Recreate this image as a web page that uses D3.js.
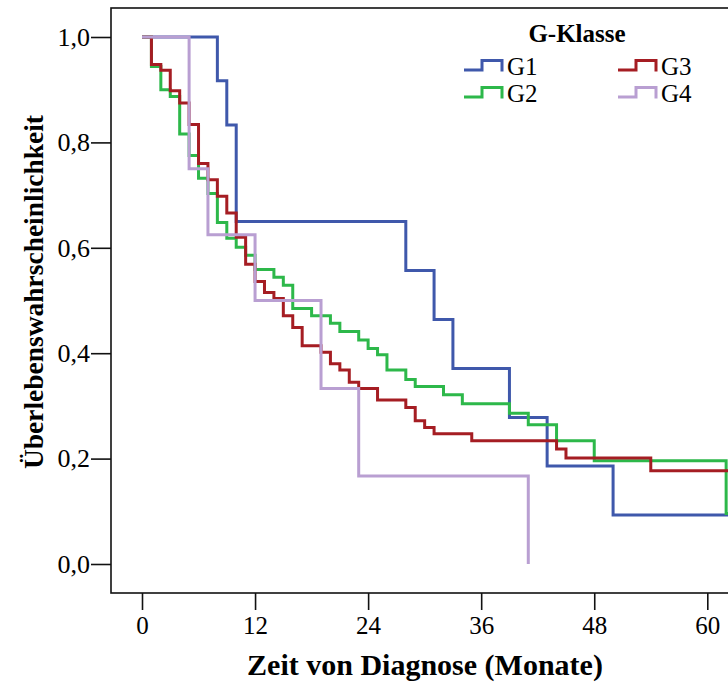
<!DOCTYPE html>
<html>
<head>
<meta charset="utf-8">
<script src="https://cdn.jsdelivr.net/npm/d3@7"></script>
<style>
  body { margin: 0; background: #fff; }
  svg { display: block; }
  text { font-family: "Liberation Serif", "Times New Roman", serif; fill: #000; }
</style>
</head>
<body>
<svg id="svg1" width="728" height="684"></svg>
<script>
// Kaplan-Meier steps per G-Klasse (months, survival)
var g1Times = [0, 8, 9, 10, 28, 31, 33, 39, 43, 50];
var g1Surv  = [1, 0.917, 0.833, 0.650, 0.557, 0.464, 0.371, 0.278, 0.186, 0.093];

var g2Times = [0, 1, 2, 3, 4, 5, 6, 7, 8, 9, 10, 11, 12, 14, 15, 16, 18, 20, 21, 23, 24, 25, 26, 28, 29, 32, 34, 39, 41, 44, 48, 62];
var g2Surv  = [1, 0.944, 0.900, 0.887, 0.816, 0.775, 0.732, 0.703, 0.648, 0.618, 0.601, 0.586, 0.559, 0.544, 0.529, 0.485, 0.471, 0.457, 0.441, 0.425, 0.409, 0.397, 0.368, 0.350, 0.337, 0.321, 0.304, 0.286, 0.264, 0.234, 0.196, 0.096];

var g3Times = [0, 1, 2, 3, 4, 5, 6, 7, 8, 9, 10, 11, 12, 13, 14, 15, 16, 17, 19, 20, 21, 22, 23, 25, 28, 29, 30, 31, 35, 44, 45, 54];
var g3Surv  = [1, 0.948, 0.937, 0.898, 0.875, 0.834, 0.760, 0.729, 0.698, 0.666, 0.620, 0.569, 0.536, 0.515, 0.504, 0.471, 0.449, 0.414, 0.402, 0.380, 0.368, 0.345, 0.333, 0.311, 0.297, 0.272, 0.259, 0.247, 0.234, 0.218, 0.201, 0.177];

var g4Times = [0, 5, 7, 12, 19, 23, 41];
var g4Surv  = [1, 0.750, 0.625, 0.500, 0.333, 0.167, 0];

// last follow-up time of each group (curve runs flat until here)
var followUp = [64, 64, 64, 41];

var groupNames = ['G1', 'G2', 'G3', 'G4'];
var groupColors = ['#3f58ab', '#2db84a', '#a51d23', '#b99fd2'];

var xTicks = [0, 12, 24, 36, 48, 60];
var yTicks = [0, 0.2, 0.4, 0.6, 0.8, 1.0];

var xTitle = 'Zeit von Diagnose (Monate)';
var yTitle = 'Überlebenswahrscheinlichkeit';
var legendTitle = 'G-Klasse';

var svg = d3.select('svg');

// frame of the plot (right side runs past the picture edge)
var frameLeft = 111, frameTop = 8, frameBottom = 593, frameRight = 760;

var x = d3.scaleLinear().domain([0, 60]).range([142, 707.3]);
var y = d3.scaleLinear().domain([0, 1]).range([564, 37]);

svg.append('rect')
    .attr('x', frameLeft)
    .attr('y', frameTop)
    .attr('width', frameRight - frameLeft)
    .attr('height', frameBottom - frameTop)
    .attr('fill', 'none')
    .attr('stroke', '#111')
    .attr('stroke-width', 1.6);

// y axis: ticks to the left of the frame
var yAxis = d3.axisLeft(y)
    .tickValues(yTicks)
    .tickSize(20)
    .tickPadding(1)
    .tickFormat(function(d) { return d3.format('.1f')(d).replace('.', ','); });

var gy = svg.append('g')
    .attr('transform', 'translate(' + frameLeft + ',0)')
    .call(yAxis);
gy.select('.domain').remove();
gy.selectAll('line').attr('stroke', '#111').attr('stroke-width', 1.6);
gy.selectAll('text').attr('font-size', 26).attr('fill', '#000');

// x axis: ticks under the frame
var xAxis = d3.axisBottom(x)
    .tickValues(xTicks)
    .tickSize(17)
    .tickPadding(6);

var gx = svg.append('g')
    .attr('transform', 'translate(0,' + frameBottom + ')')
    .call(xAxis);
gx.select('.domain').remove();
gx.selectAll('line').attr('stroke', '#111').attr('stroke-width', 1.6);
gx.selectAll('text').attr('font-size', 25).attr('fill', '#000');

// axis titles
svg.append('text')
    .attr('x', 425)
    .attr('y', 675)
    .attr('text-anchor', 'middle')
    .attr('font-size', 30)
    .attr('font-weight', 'bold')
    .text(xTitle);

svg.append('text')
    .attr('transform', 'translate(43,292) rotate(-90)')
    .attr('text-anchor', 'middle')
    .attr('font-size', 28)
    .attr('font-weight', 'bold')
    .attr('textLength', 354)
    .attr('lengthAdjust', 'spacingAndGlyphs')
    .text(yTitle);

// curves
var groups = [
    {times: g1Times, surv: g1Surv},
    {times: g2Times, surv: g2Surv},
    {times: g3Times, surv: g3Surv},
    {times: g4Times, surv: g4Surv}
];

var stepLine = d3.line()
    .x(function(d) { return x(d[0]); })
    .y(function(d) { return y(d[1]); })
    .curve(d3.curveStepAfter);

groups.forEach(function(g, i) {
    var pts = g.times.map(function(t, j) { return [t, g.surv[j]]; });
    pts.push([followUp[i], g.surv[g.surv.length - 1]]);
    svg.append('path')
        .attr('d', stepLine(pts))
        .attr('fill', 'none')
        .attr('stroke', groupColors[i])
        .attr('stroke-width', 3);
});

// legend
svg.append('text')
    .attr('x', 577)
    .attr('y', 42)
    .attr('text-anchor', 'middle')
    .attr('font-size', 25)
    .attr('font-weight', 'bold')
    .text(legendTitle);

var legendPos = [[464, 70], [464, 97], [618, 70], [618, 97]];

groupNames.forEach(function(name, i) {
    var lx = legendPos[i][0], ly = legendPos[i][1];
    svg.append('path')
        .attr('d', 'M' + lx + ',' + ly + 'H' + (lx + 18) + 'V' + (ly - 9.5) + 'H' + (lx + 38) + 'V' + (ly + 1.5))
        .attr('fill', 'none')
        .attr('stroke', groupColors[i])
        .attr('stroke-width', 3);
    svg.append('text')
        .attr('x', lx + 43)
        .attr('y', ly + 5)
        .attr('font-size', 25)
        .text(name);
});
</script>
</body>
</html>
